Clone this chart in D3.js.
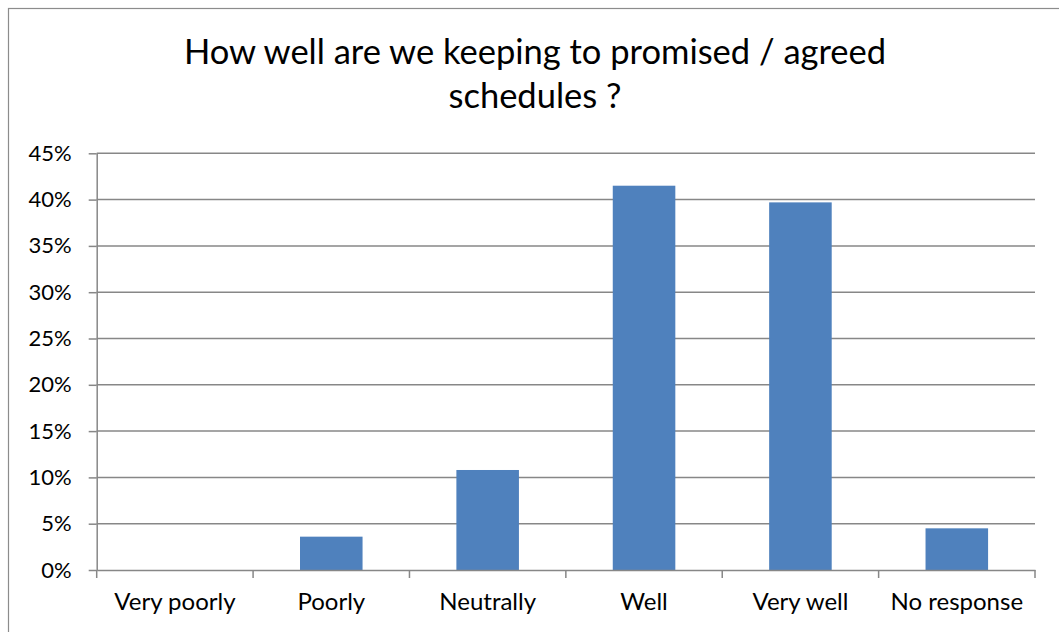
<!DOCTYPE html>
<html>
<head>
<meta charset="utf-8">
<script src="https://cdn.jsdelivr.net/npm/d3@7"></script>
<style>
  html, body { margin: 0; padding: 0; background: #fff; }
  svg { display: block; }
</style>
</head>
<body>
<svg id="chart" width="1059" height="632"></svg>
<script>
const categories = ["Very poorly", "Poorly", "Neutrally", "Well", "Very well", "No response"];
const values = [0, 3.6, 10.8, 41.5, 39.7, 4.5];
const yTicks = [0, 5, 10, 15, 20, 25, 30, 35, 40, 45];
const titleLines = ["How well are we keeping to promised / agreed", "schedules ?"];

(function () {
const svg = d3.select("#chart");
const W = 1059, H = 632;
const font = "Lato, 'Open Sans', sans-serif";

// outer border
svg.append("rect")
  .attr("x", 8.5).attr("y", 8.5)
  .attr("width", W + 20).attr("height", H + 20)
  .attr("fill", "#fff").attr("stroke", "#8c8c8c").attr("stroke-width", 1.2);

const pLeft = 96.7, pRight = 1035, pTop = 153.3, pBottom = 570;

const x = d3.scaleBand().domain(categories).range([pLeft, pRight]).paddingInner(0.6).paddingOuter(0.3);
const y = d3.scaleLinear().domain([0, 45]).range([pBottom, pTop]);

// gridlines
svg.append("g")
  .selectAll("line").data(yTicks.filter(d => d > 0)).join("line")
  .attr("x1", pLeft).attr("x2", pRight)
  .attr("y1", d => y(d)).attr("y2", d => y(d))
  .attr("stroke", "#878787").attr("stroke-width", 1.5);

// bars
svg.append("g")
  .selectAll("rect").data(categories).join("rect")
  .attr("x", d => x(d))
  .attr("width", x.bandwidth())
  .attr("y", (d, i) => y(values[i]))
  .attr("height", (d, i) => pBottom - y(values[i]))
  .attr("fill", "#4F81BD");

// y axis
const yAxis = d3.axisLeft(y).tickValues(yTicks).tickFormat(d => d + "%").tickSizeOuter(0).tickSizeInner(8).tickPadding(17);
const gy = svg.append("g").attr("transform", `translate(${pLeft},0)`).call(yAxis);
gy.select(".domain").attr("stroke", "#878787").attr("stroke-width", 1.5);
gy.selectAll(".tick line").attr("stroke", "#878787").attr("stroke-width", 1.5);
gy.selectAll(".tick text").attr("font-family", font).attr("font-size", 22).attr("fill", "#000");

// x axis
const xb = d3.scaleBand().domain(categories).range([pLeft, pRight]);
const xAxis = d3.axisBottom(xb).tickSize(0).tickPadding(23).tickSizeOuter(0);
const gx = svg.append("g").attr("transform", `translate(0,${pBottom})`).call(xAxis);
gx.select(".domain").attr("stroke", "#878787").attr("stroke-width", 1.5);
gx.selectAll(".tick text").attr("font-family", font).attr("font-size", 24).attr("fill", "#000");
// boundary ticks
const bounds = categories.map(c => xb(c)).concat([pRight]);
svg.append("g").selectAll("line").data(bounds).join("line")
  .attr("x1", d => d).attr("x2", d => d)
  .attr("y1", pBottom).attr("y2", pBottom + 8)
  .attr("stroke", "#878787").attr("stroke-width", 1.5);

// title
svg.append("g").selectAll("text").data(titleLines).join("text")
  .attr("x", 535).attr("y", (d, i) => 64 + i * 44)
  .attr("text-anchor", "middle")
  .attr("font-family", font).attr("font-size", 34.5).attr("fill", "#000")
  .text(d => d);
})();
</script>
</body>
</html>
